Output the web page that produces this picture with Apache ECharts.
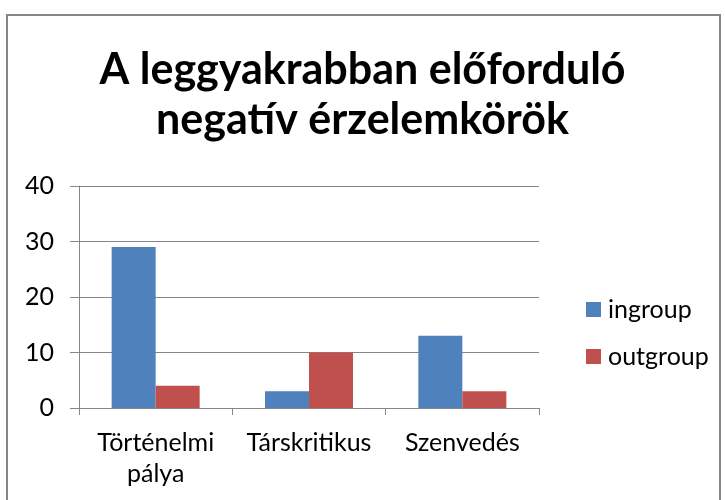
<!DOCTYPE html>
<html>
<head>
<meta charset="utf-8">
<script src="https://cdn.jsdelivr.net/npm/echarts@6/dist/echarts.min.js"></script>
<style>html,body{margin:0;padding:0;background:#fff}#c{width:725px;height:500px}</style>
</head>
<body>
<div id="c"></div>
<script>
const categories = ['Történelmi\npálya', 'Társkritikus', 'Szenvedés'];
const ingroup = [29, 3, 13];
const outgroup = [4, 10, 3];
const yTicks = [0, 10, 20, 30, 40];

const chart = echarts.init(document.getElementById('c'), null, {renderer: 'canvas'});
const font = 'Lato, "Open Sans", sans-serif';
chart.setOption({
  animation: false,
  backgroundColor: '#fff',
  title: {
    text: 'A leggyakrabban előforduló\nnegatív érzelemkörök',
    left: 'center',
    top: 40,
    textStyle: {fontFamily: font, fontWeight: 'bold', fontSize: 43, color: '#000', lineHeight: 50}
  },
  graphic: [{
    type: 'rect', shape: {x: 7, y: 15, width: 713, height: 500},
    style: {fill: null, stroke: '#868686', lineWidth: 2}, silent: true
  }],
  legend: {
    orient: 'vertical',
    left: 581, top: 292,
    itemWidth: 15, itemHeight: 15, itemGap: 22,
    icon: 'rect',
    textStyle: {fontFamily: font, fontSize: 25, color: '#000', padding: [0, 0, 0, 2]},
    data: ['ingroup', 'outgroup']
  },
  grid: {left: 79, right: 186, top: 186, bottom: 92, containLabel: false},
  xAxis: {
    type: 'category',
    data: categories,
    axisLine: {lineStyle: {color: '#868686'}},
    axisTick: {show: true, length: 7, lineStyle: {color: '#868686'}},
    axisLabel: {interval: 0, fontFamily: font, fontSize: 25, color: '#000', margin: 19, lineHeight: 31}
  },
  yAxis: {
    type: 'value', min: yTicks[0], max: yTicks[yTicks.length - 1], interval: 10,
    axisLine: {show: true, lineStyle: {color: '#868686'}},
    axisTick: {show: true, length: 9, lineStyle: {color: '#868686'}},
    splitLine: {lineStyle: {color: '#868686'}},
    axisLabel: {fontFamily: font, fontSize: 25, color: '#000', margin: 25}
  },
  series: [
    {name: 'ingroup', type: 'bar', data: ingroup, barWidth: 44, barGap: 0, itemStyle: {color: '#4F81BD'}},
    {name: 'outgroup', type: 'bar', data: outgroup, barWidth: 44, barGap: 0, itemStyle: {color: '#C0504D'}}
  ]
});
</script>
</body>
</html>
